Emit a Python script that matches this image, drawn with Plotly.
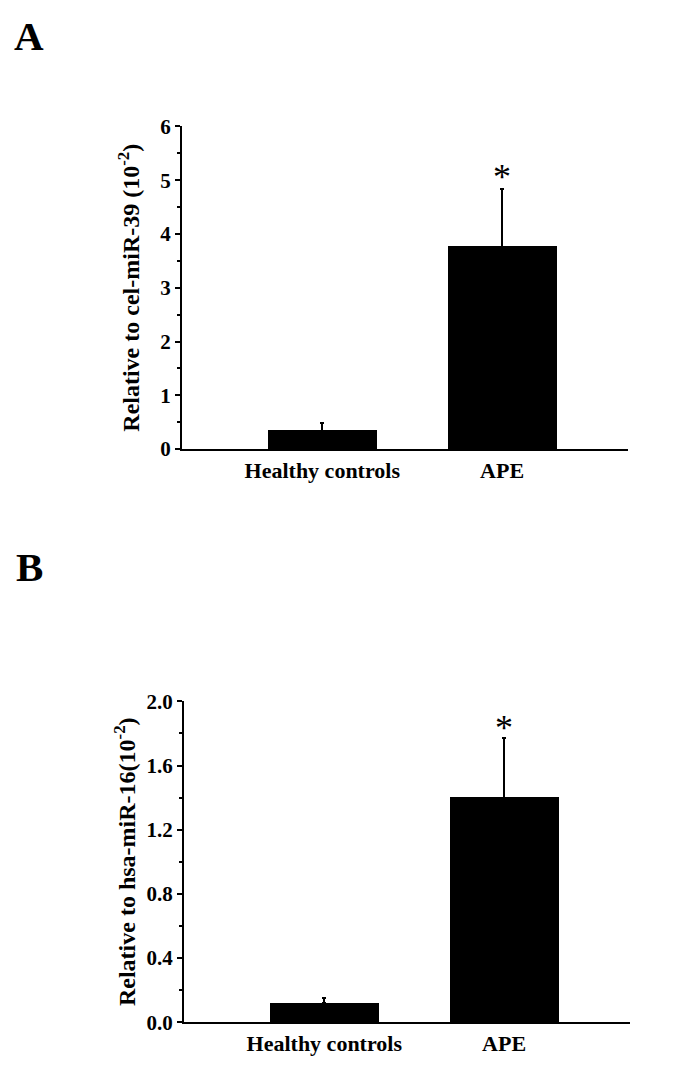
import plotly.graph_objects as go

categories = ["Healthy controls", "APE"]
a_values = [0.34, 3.76]
a_err_up = [0.15, 1.08]
b_values = [0.12, 1.40]
b_err_up = [0.03, 0.37]
a_yticks = [0, 1, 2, 3, 4, 5, 6]
b_yticks = [0.0, 0.4, 0.8, 1.2, 1.6, 2.0]

W, H = 685, 1085
FONT = "Liberation Serif"

def px_x(a, b):
    return [a / W, b / W]

def px_y(top, bottom):
    return [1 - bottom / H, 1 - top / H]

fig = go.Figure()

fig.add_trace(go.Bar(
    x=[0, 1], y=a_values, width=0.605, marker=dict(color="black", line=dict(width=0)),
    error_y=dict(type="data", symmetric=False, array=a_err_up, arrayminus=[0, 0],
                 color="black", thickness=2, width=2),
    xaxis="x", yaxis="y", showlegend=False))

fig.add_trace(go.Bar(
    x=[0, 1], y=b_values, width=0.605, marker=dict(color="black", line=dict(width=0)),
    error_y=dict(type="data", symmetric=False, array=b_err_up, arrayminus=[0, 0],
                 color="black", thickness=2, width=2),
    xaxis="x2", yaxis="y2", showlegend=False))

xcommon = dict(range=[-0.78, 1.70], showgrid=False, zeroline=False, showline=True,
               linecolor="black", linewidth=2, ticks="", tickmode="array",
               tickvals=[0, 1], ticktext=categories,
               tickfont=dict(family=FONT, size=22, color="black", weight="bold"))

ycommon = dict(showgrid=False, zeroline=False, showline=True, linecolor="black", linewidth=2,
               ticks="outside", ticklen=5, tickwidth=2, tickcolor="black",
               tickfont=dict(family=FONT, size=21, color="black", weight="bold"))

fig.update_layout(
    width=W, height=H, margin=dict(l=0, r=0, t=0, b=0),
    paper_bgcolor="white", plot_bgcolor="white", bargap=0,
    font=dict(family=FONT, color="black"),
    xaxis=dict(domain=px_x(182, 628), anchor="y", **xcommon),
    xaxis2=dict(domain=px_x(184, 630), anchor="y2", **xcommon),
    yaxis=dict(domain=px_y(117, 447), anchor="x", range=[0, 6], tickvals=a_yticks,
               minor=dict(ticks="outside", ticklen=3, tickwidth=2, tickcolor="black", dtick=0.5),
               title=dict(text="Relative to cel-miR-39 (10<sup>-2</sup>)", standoff=14,
                          font=dict(family=FONT, size=24, color="black", weight="bold")),
               **ycommon),
    yaxis2=dict(domain=px_y(705, 1033), anchor="x2", range=[0, 2], tickvals=b_yticks,
                tickformat=".1f",
                minor=dict(ticks="outside", ticklen=3, tickwidth=2, tickcolor="black", dtick=0.2),
                title=dict(text="Relative to hsa-miR-16(10<sup>-2</sup>)", standoff=4,
                           font=dict(family=FONT, size=24, color="black", weight="bold")),
                **ycommon),
)

# significance asterisks
fig.add_annotation(x=1, y=a_values[1] + a_err_up[1], xref="x", yref="y", text="*",
                   showarrow=False, yshift=12,
                   font=dict(family=FONT, size=36, color="black"))
fig.add_annotation(x=1, y=b_values[1] + b_err_up[1], xref="x2", yref="y2", text="*",
                   showarrow=False, yshift=10,
                   font=dict(family=FONT, size=36, color="black"))

# panel labels
fig.add_annotation(x=29 / W, y=1 - 25 / H, xref="paper", yref="paper", text="A",
                   showarrow=False, xanchor="center", yanchor="middle",
                   font=dict(family=FONT, size=41, color="black", weight="bold"))
fig.add_annotation(x=29 / W, y=1 - 568 / H, xref="paper", yref="paper", text="B",
                   showarrow=False, xanchor="center", yanchor="middle",
                   font=dict(family=FONT, size=41, color="black", weight="bold"))

fig.write_html("out.html", config={"displayModeBar": False},
               post_script="document.body.style.margin='0';")
